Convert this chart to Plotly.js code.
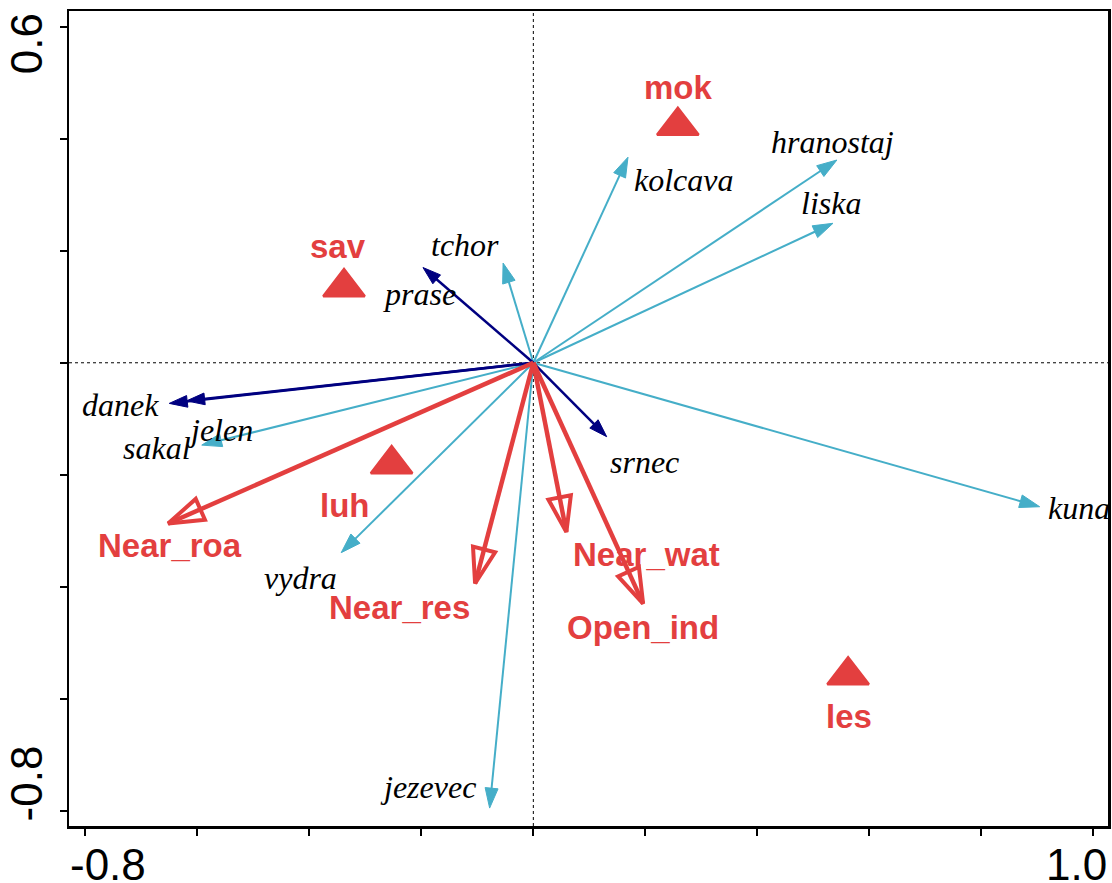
<!DOCTYPE html>
<html>
<head>
<meta charset="utf-8">
<script src="https://cdn.plot.ly/plotly-3.0.1.min.js"></script>
<style>html,body{margin:0;padding:0;background:#fff;}#chart{width:1112px;height:883px;}</style>
</head>
<body>
<div id="chart"></div>
<script>
// ---- data ----
const speciesCyan = ['kolcava','hranostaj','liska','tchor','kuna','sakal','vydra','jezevec'];
const cyanX = [0.169, 0.542, 0.535, -0.054, 0.904, -0.592, -0.343, -0.078];
const cyanY = [0.367, 0.362, 0.249, 0.178, -0.257, -0.147, -0.339, -0.795];

const speciesNavy = ['prase','srnec','danek','jelen'];
const navyX = [-0.197, 0.131, -0.650, -0.619];
const navyY = [0.170, -0.132, -0.0725, -0.068];

const envVars = ['Near_roa','Near_res','Near_wat','Open_ind'];
const envX = [-0.652, -0.104, 0.059, 0.196];
const envY = [-0.287, -0.394, -0.302, -0.430];

const sites = ['mok','sav','luh','les'];
const siteX = [0.258, -0.338, -0.253, 0.562];
const siteY = [0.423, 0.135, -0.181, -0.558];

const xTickVals = [-0.8,-0.6,-0.4,-0.2,0,0.2,0.4,0.6,0.8,1.0];
const xTickLabels = ['-0.8','1.0'];
const xTickLabelVals = [-0.8, 1.0];
const yTickVals = [-0.8,-0.6,-0.4,-0.2,0,0.2,0.4,0.6];
const yTickLabels = ['0.6','-0.8'];
const yTickLabelVals = [0.6, -0.8];

// ---- styling ----
const RED = '#E33F3F', CYAN = '#45AEC8', NAVY = '#000080';
const labelOffset = { // pixel offsets of labels from tips (dx right, dy down)
  kolcava:[56,23], hranostaj:[-4,-18], liska:[-2,-20], tchor:[-38,-18], kuna:[39,1],
  sakal:[-45,3], vydra:[-41,25], jezevec:[-62,-21],
  prase:[-3,26], srnec:[38,25], danek:[-49,2], jelen:[33,29],
  Near_roa:[2,22], Near_res:[-76,24], Near_wat:[80,23], Open_ind:[0,24],
  mok:[1,-38], sav:[-6,-41], luh:[-47,41], les:[1,41]
};

const traces = [];
const annotations = [];

function addArrows(names, xs, ys, color, lw, sym, msize, mlw, labelFont) {
  names.forEach((n, i) => {
    traces.push({
      type:'scatter', mode:'lines+markers', x:[0, xs[i]], y:[0, ys[i]],
      line:{color:color, width:lw},
      marker:{symbol:sym, size:[0, msize], color:color, opacity:1, angleref:'previous',
              line:{color:color, width:mlw}},
      hoverinfo:'skip', showlegend:false, cliponaxis:false
    });
    const o = labelOffset[n] || [0,0];
    annotations.push({x:xs[i], y:ys[i], xref:'x', yref:'y', text:n, showarrow:false,
      xanchor:'center', yanchor:'middle', xshift:o[0], yshift:-o[1], font:labelFont});
  });
}

const speciesFont = {family:'"Liberation Serif", "Times New Roman", serif', size:32, color:'#000', style:'italic'};
const redFont = {family:'"Liberation Sans", Arial, sans-serif', size:33, color:RED, weight:'bold'};

addArrows(speciesCyan, cyanX, cyanY, CYAN, 2, 'arrow', 21, 1, speciesFont);
addArrows(speciesNavy, navyX, navyY, NAVY, 2.5, 'arrow', 19, 1, speciesFont);
addArrows(envVars, envX, envY, RED, 4.5, 'arrow-open', 37, 4, redFont);

traces.push({
  type:'scatter', mode:'markers', x:siteX, y:siteY,
  marker:{symbol:'triangle-up', size:36, color:RED, opacity:1, line:{color:RED, width:2.5}},
  hoverinfo:'skip', showlegend:false
});
sites.forEach((n, i) => {
  const o = labelOffset[n];
  annotations.push({x:siteX[i], y:siteY[i], xref:'x', yref:'y', text:n, showarrow:false,
    xanchor:'center', yanchor:'middle', xshift:o[0], yshift:-o[1], font:redFont});
});

// tick labels (placed inward like the original)
const tickFont = {family:'"Liberation Sans", Arial, sans-serif', size:44, color:'#000'};
const xTickShift = [23, -17];
xTickLabels.forEach((t, i) => {
  annotations.push({x:xTickLabelVals[i], y:0, xref:'x', yref:'paper', text:t, showarrow:false,
    xanchor:'center', yanchor:'top', xshift:xTickShift[i], yshift:-12, font:tickFont});
});
const yTickShift = [-17, 27];
yTickLabels.forEach((t, i) => {
  annotations.push({x:0, y:yTickLabelVals[i], xref:'paper', yref:'y', text:t, showarrow:false,
    xanchor:'right', yanchor:'middle', xshift:-16, yshift:yTickShift[i], textangle:-90, font:tickFont});
});

const layout = {
  width:1112, height:883,
  margin:{l:69, r:4, t:11, b:57},
  paper_bgcolor:'#fff', plot_bgcolor:'#fff',
  xaxis:{range:[-0.829, 1.026], showgrid:false, zeroline:false, showline:true, mirror:true,
         linecolor:'#000', linewidth:2.5, ticks:'outside', ticklen:7, tickwidth:2, tickcolor:'#000',
         tickvals:xTickVals, ticktext:xTickVals.map(()=>''), automargin:false, fixedrange:true},
  yaxis:{range:[-0.827, 0.628], showgrid:false, zeroline:false, showline:true, mirror:true,
         linecolor:'#000', linewidth:2.5, ticks:'outside', ticklen:7, tickwidth:2, tickcolor:'#000',
         tickvals:yTickVals, ticktext:yTickVals.map(()=>''), automargin:false, fixedrange:true},
  shapes:[
    {type:'line', xref:'x', yref:'paper', x0:0, x1:0, y0:0, y1:1, line:{color:'#000', width:1, dash:'dot'}, layer:'below'},
    {type:'line', xref:'paper', yref:'y', x0:0, x1:1, y0:0, y1:0, line:{color:'#000', width:1, dash:'dot'}, layer:'below'}
  ],
  annotations:annotations,
  showlegend:false
};

Plotly.newPlot('chart', traces, layout, {displayModeBar:false, staticPlot:true});
</script>
</body>
</html>
